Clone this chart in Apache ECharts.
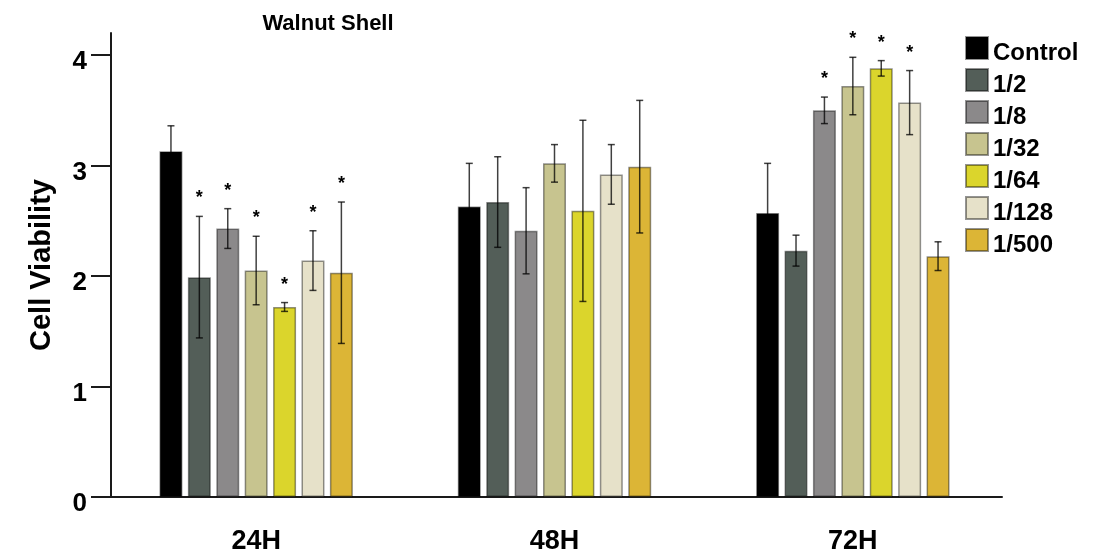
<!DOCTYPE html>
<html><head><meta charset="utf-8">
<script src="https://cdn.jsdelivr.net/npm/echarts@6/dist/echarts.min.js"></script>
<style>html,body{margin:0;padding:0;background:#fff}#c{width:1100px;height:558px}</style>
</head><body><div id="c"></div>
<script>
const categories = ['24H', '48H', '72H'];
const seriesNames = ['Control', '1/2', '1/8', '1/32', '1/64', '1/128', '1/500'];
const yTicks = [0, 1, 2, 3, 4];

const meanControl = [3.13, 2.63, 2.57];
const mean1_2     = [1.99, 2.67, 2.23];
const mean1_8     = [2.43, 2.41, 3.50];
const mean1_32    = [2.05, 3.02, 3.72];
const mean1_64    = [1.72, 2.59, 3.88];
const mean1_128   = [2.14, 2.92, 3.57];
const mean1_500   = [2.03, 2.99, 2.18];

const errControl = [0.23, 0.39, 0.45];
const err1_2     = [0.55, 0.41, 0.14];
const err1_8     = [0.18, 0.39, 0.12];
const err1_32    = [0.31, 0.17, 0.26];
const err1_64    = [0.04, 0.82, 0.07];
const err1_128   = [0.27, 0.27, 0.29];
const err1_500   = [0.64, 0.60, 0.13];

const sigControl = [0, 0, 0];
const sig1_2     = [1, 0, 0];
const sig1_8     = [1, 0, 1];
const sig1_32    = [1, 0, 1];
const sig1_64    = [1, 0, 1];
const sig1_128   = [1, 0, 1];
const sig1_500   = [1, 0, 0];

const colors = ['#000000', '#535e58', '#8b898a', '#c7c48f', '#dbd52c', '#e6e1c9', '#dcb536'];

const means = [meanControl, mean1_2, mean1_8, mean1_32, mean1_64, mean1_128, mean1_500];
const errs = [errControl, err1_2, err1_8, err1_32, err1_64, err1_128, err1_500];
const sigs = [sigControl, sig1_2, sig1_8, sig1_32, sig1_64, sig1_128, sig1_500];

const FONT = "'Liberation Sans', Arial, sans-serif";
const BAR_W = 23;
const GAP = 0.235;
const N = seriesNames.length;

const barSeries = seriesNames.map((name, i) => ({
  name: name,
  type: 'bar',
  barWidth: BAR_W,
  barGap: (GAP * 100) + '%',
  itemStyle: { color: colors[i], borderColor: 'rgba(0,0,0,0.42)', borderWidth: 1.5 },
  data: means[i],
  z: 2
}));

const errData = [];
for (let s = 0; s < N; s++) {
  for (let c = 0; c < categories.length; c++) {
    errData.push([c, s, means[s][c], errs[s][c], sigs[s][c]]);
  }
}

const errSeries = {
  type: 'custom',
  z: 5,
  silent: true,
  encode: { x: 0, y: 2 },
  data: errData,
  renderItem: function (params, api) {
    const c = api.value(0), s = api.value(1), m = api.value(2), e = api.value(3), sig = api.value(4);
    const pitch = BAR_W * (1 + GAP);
    const x = api.coord([c, 0])[0] + (s - (N - 1) / 2) * pitch;
    const yTop = api.coord([c, m + e])[1];
    const yBot = api.coord([c, m - e])[1];
    const cap = 3.5;
    const st = { stroke: 'rgba(0,0,0,0.75)', lineWidth: 1.5 };
    const children = [
      { type: 'line', shape: { x1: x, y1: yTop, x2: x, y2: yBot }, style: st },
      { type: 'line', shape: { x1: x - cap, y1: yTop, x2: x + cap, y2: yTop }, style: st },
      { type: 'line', shape: { x1: x - cap, y1: yBot, x2: x + cap, y2: yBot }, style: st }
    ];
    if (sig) {
      children.push({
        type: 'text',
        style: { text: '*', x: x, y: yTop - 18, align: 'center', verticalAlign: 'middle',
          font: 'bold 18px ' + FONT, fill: '#000' }
      });
    }
    return { type: 'group', children: children };
  }
};

const chart = echarts.init(document.getElementById('c'), null, { renderer: 'canvas' });
chart.setOption({
  animation: false,
  backgroundColor: '#ffffff',
  title: {
    text: 'Walnut Shell',
    left: 323, top: 8,
    textAlign: 'center',
    textStyle: { fontFamily: FONT, fontWeight: 'bold', fontSize: 22, color: '#000' }
  },
  legend: {
    data: seriesNames,
    orient: 'vertical',
    left: 960, top: 31,
    itemWidth: 22, itemHeight: 22, itemGap: 3,
    icon: 'rect',
    formatter: '{t|{name}}',
    textStyle: {
      padding: [10, 0, 0, 0],
      rich: { t: { fontFamily: FONT, fontWeight: 'bold', fontSize: 24, lineHeight: 22, color: '#000' } }
    }
  },
  grid: { left: 107, right: 98, top: 33, bottom: 61, containLabel: false },
  xAxis: {
    type: 'category',
    data: categories,
    axisLine: { lineStyle: { color: '#1a1a1a', width: 2 } },
    axisTick: { alignWithLabel: true, length: 20, lineStyle: { color: '#1a1a1a', width: 2 } },
    axisLabel: { margin: 31, fontFamily: FONT, fontWeight: 'bold', fontSize: 27, color: '#000' }
  },
  yAxis: {
    type: 'value',
    min: 0, max: 4.2, interval: 1,
    offset: -4,
    name: 'Cell Viability',
    nameLocation: 'middle',
    nameGap: 55,
    nameTextStyle: { fontFamily: FONT, fontWeight: 'bold', fontSize: 29, color: '#000' },
    splitLine: { show: false },
    axisLine: { show: true, lineStyle: { color: '#1a1a1a', width: 2 } },
    axisTick: { show: true, length: 20, lineStyle: { color: '#1a1a1a', width: 2 }, customValues: yTicks },
    axisLabel: { margin: 24, fontFamily: FONT, fontWeight: 'bold', fontSize: 26, color: '#000',
      verticalAlign: 'top', lineHeight: 14, customValues: yTicks }
  },
  series: barSeries.concat([errSeries])
});
</script></body></html>
